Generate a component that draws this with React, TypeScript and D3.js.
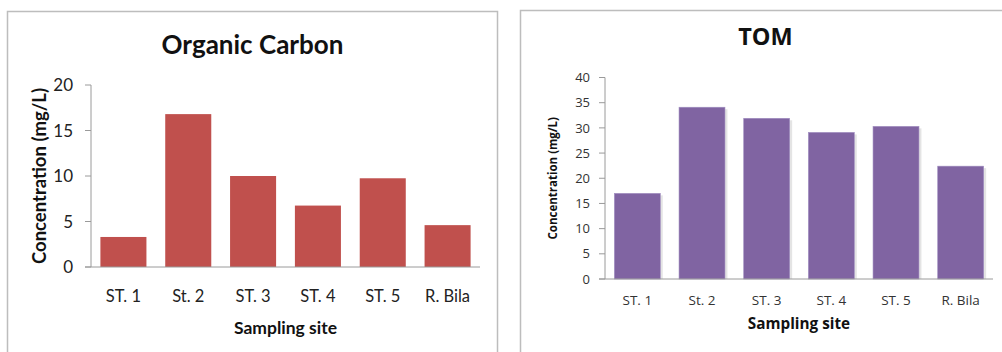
import React from "react";
import * as d3 from "d3";

const sites = ["ST. 1", "St. 2", "ST. 3", "ST. 4", "ST. 5", "R. Bila"];
const organicCarbon = [3.3, 16.8, 10.0, 6.75, 9.75, 4.6];
const tom = [17.0, 34.1, 31.9, 29.1, 30.3, 22.4];
const ocTicks = [0, 5, 10, 15, 20];
const tomTicks = [0, 5, 10, 15, 20, 25, 30, 35, 40];

type PanelProps = {
  title: string;
  values: number[];
  ticks: number[];
  yMax: number;
  color: string;
  box: { x: number; y: number; w: number; h: number };
  plot: { x0: number; x1: number; y0: number; y1: number };
  font: string;
  titleSize: number;
  titleY: number;
  tickSize: number;
  tickGap: number;
  tickColor: string;
  xTickSize: number;
  xTickY: number;
  yLabelSize: number;
  yLabelX: number;
  xLabelSize: number;
  xLabelY: number;
  shadow: boolean;
};

function Panel(p: PanelProps) {
  const x = d3.scaleBand<string>().domain(sites).range([p.plot.x0, p.plot.x1]).paddingInner(0.29).paddingOuter(0.145);
  const y = d3.scaleLinear().domain([0, p.yMax]).range([p.plot.y0, p.plot.y1]);
  const cx = (p.plot.x0 + p.plot.x1) / 2;
  const cy = (p.plot.y0 + p.plot.y1) / 2;
  return (
    <g fontFamily={p.font}>
      <rect x={p.box.x} y={p.box.y} width={p.box.w} height={p.box.h} fill="#fff" stroke="#bdbdbd" strokeWidth={1.5} />
      <text x={(p.box.x + p.box.x + p.box.w) / 2} y={p.titleY} textAnchor="middle" fontWeight="bold" fontSize={p.titleSize} fill="#111">
        {p.title}
      </text>
      {sites.map((s, i) => {
        const bx = x(s)!;
        const by = y(p.values[i]);
        const h = p.plot.y0 - by;
        return (
          <g key={s}>
            {p.shadow && <rect x={bx + 2.5} y={by + 2} width={x.bandwidth()} height={h - 2} fill="#d8d8d8" opacity={0.7} />}
            <rect x={bx} y={by} width={x.bandwidth()} height={h} fill={p.color} stroke={p.shadow ? "#a08ec0" : "none"} strokeWidth={0.6} />
          </g>
        );
      })}
      <line x1={p.plot.x0} x2={p.plot.x0} y1={y(p.yMax)} y2={p.plot.y0} stroke="#9a9a9a" strokeWidth={1} />
      <line x1={p.plot.x0 - 6} x2={p.plot.x1} y1={p.plot.y0} y2={p.plot.y0} stroke="#9a9a9a" strokeWidth={1} />
      {p.ticks.map((t) => (
        <g key={t}>
          <line x1={p.plot.x0 - 6} x2={p.plot.x0} y1={y(t)} y2={y(t)} stroke="#9a9a9a" strokeWidth={1} />
          <text x={p.plot.x0 - p.tickGap} y={y(t)} dy="0.36em" textAnchor="end" fontSize={p.tickSize} fill={p.tickColor}>
            {t}
          </text>
        </g>
      ))}
      {sites.map((s) => (
        <text key={s} x={x(s)! + x.bandwidth() / 2} y={p.xTickY} textAnchor="middle" fontSize={p.xTickSize} fill={p.tickColor}>
          {s}
        </text>
      ))}
      <text
        transform={`translate(${p.yLabelX},${cy}) rotate(-90)`}
        textAnchor="middle"
        fontWeight="bold"
        fontSize={p.yLabelSize}
        fill="#111"
      >
        Concentration (mg/L)
      </text>
      <text x={cx} y={p.xLabelY} textAnchor="middle" fontWeight="bold" fontSize={p.xLabelSize} fill="#111">
        Sampling site
      </text>
    </g>
  );
}

export default function App() {
  return (
    <svg width={1002} height={352} style={{ position: "absolute", left: 0, top: 0 }}>
      <rect x={0} y={0} width={1002} height={352} fill="#fff" />
      <Panel
        title="Organic Carbon"
        values={organicCarbon}
        ticks={ocTicks}
        yMax={20}
        color="#C0504D"
        box={{ x: 7.5, y: 11.5, w: 490, h: 360 }}
        plot={{ x0: 91, x1: 480, y0: 267, y1: 85 }}
        font="Lato, 'Open Sans', sans-serif"
        titleSize={26}
        titleY={54}
        tickSize={17}
        tickGap={18}
        tickColor="#222"
        xTickSize={16.5}
        xTickY={302}
        yLabelSize={18.5}
        yLabelX={46}
        xLabelSize={17.5}
        xLabelY={334}
        shadow={false}
      />
      <Panel
        title="TOM"
        values={tom}
        ticks={tomTicks}
        yMax={40}
        color="#8064A2"
        box={{ x: 520.5, y: 10.5, w: 490, h: 360 }}
        plot={{ x0: 605, x1: 993, y0: 279, y1: 77.5 }}
        font="'Open Sans', sans-serif"
        titleSize={23.5}
        titleY={45}
        tickSize={13}
        tickGap={15}
        tickColor="#333"
        xTickSize={13.5}
        xTickY={305}
        yLabelSize={11.5}
        yLabelX={557}
        xLabelSize={15.3}
        xLabelY={329}
        shadow={true}
      />
    </svg>
  );
}
